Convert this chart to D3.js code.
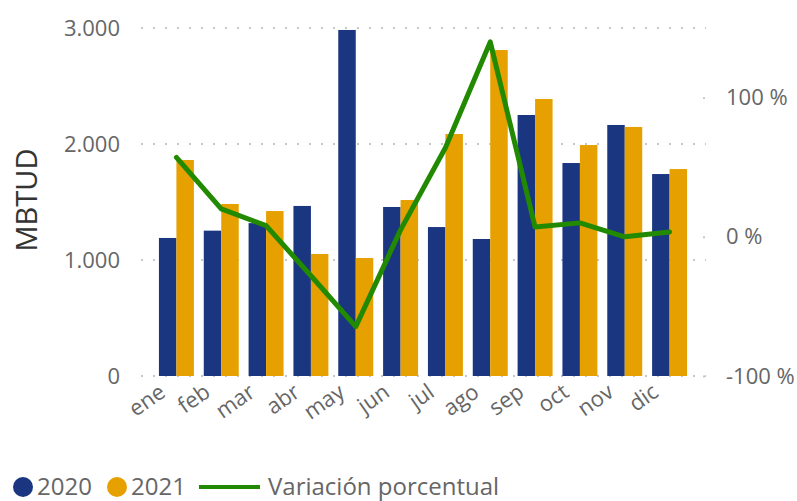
<!DOCTYPE html>
<html>
<head>
<meta charset="utf-8">
<script src="https://cdn.jsdelivr.net/npm/d3@7"></script>
<style>
  body { margin: 0; background: #fff; }
  text { font-family: "Open Sans", "Noto Sans", sans-serif; fill: #666; }
</style>
</head>
<body>
<svg id="chart" width="797" height="501"></svg>
<script>
var months = ['ene', 'feb', 'mar', 'abr', 'may', 'jun', 'jul', 'ago', 'sep', 'oct', 'nov', 'dic'];
var values2020 = [1190, 1253, 1318, 1466, 2983, 1457, 1284, 1181, 2250, 1836, 2164, 1741];
var values2021 = [1862, 1483, 1422, 1052, 1017, 1517, 2086, 2810, 2388, 1991, 2147, 1784];
var variacion = [57, 20, 8, -28, -64.5, 5, 64, 140, 7, 10, 0, 3.5];
var leftTicks = [0, 1000, 2000, 3000];
var rightTicks = [-100, 0, 100];

var colors = { '2020': '#1b3680', '2021': '#e6a000', line: '#218a00' };

var svg = d3.select('#chart');

var x = d3.scaleBand()
    .domain(months)
    .range([154, 692])
    .paddingInner(0.22)
    .paddingOuter(0.11);

var xSub = d3.scaleBand()
    .domain(['2020', '2021'])
    .range([0, x.bandwidth()]);

var y = d3.scaleLinear().domain([0, 3000]).range([376, 28]);
var y2 = d3.scaleLinear().domain([-100, 150]).range([376, 28]);

var fmt = function(d) { return d3.format(',')(d).replace(/,/g, '.'); };

// grid lines (dotted)
svg.append('g')
    .selectAll('line')
    .data(leftTicks)
    .enter()
    .append('line')
    .attr('x1', 141)
    .attr('x2', 706)
    .attr('y1', function(d) { return y(d); })
    .attr('y2', function(d) { return y(d); })
    .attr('stroke', '#c8c8c8')
    .attr('stroke-width', 2)
    .attr('stroke-dasharray', '2,10');

// left axis
var leftAxis = svg.append('g')
    .attr('transform', 'translate(120,0)')
    .call(d3.axisLeft(y).tickValues(leftTicks).tickFormat(fmt).tickSize(0).tickPadding(0));
leftAxis.select('.domain').remove();
leftAxis.selectAll('text').style('font-size', '22px').attr('fill', '#666');

// right axis
var rightAxis = svg.append('g')
    .attr('transform', 'translate(704,0)')
    .call(d3.axisRight(y2).tickValues(rightTicks).tickFormat(function(d) { return d + ' %'; }).tickSize(0).tickPadding(22));
rightAxis.select('.domain').remove();
rightAxis.selectAll('text').style('font-size', '22px').attr('fill', '#666');
rightAxis.selectAll('.tick').append('rect')
    .attr('x', -1).attr('y', -1).attr('width', 2).attr('height', 2)
    .attr('fill', '#c8c8c8');

// bars
var groups = svg.append('g')
    .selectAll('g')
    .data(months)
    .enter()
    .append('g')
    .attr('transform', function(d) { return 'translate(' + x(d) + ',0)'; });

groups.append('rect')
    .attr('x', xSub('2020'))
    .attr('width', xSub.bandwidth())
    .attr('y', function(d, i) { return y(values2020[i]); })
    .attr('height', function(d, i) { return y(0) - y(values2020[i]); })
    .attr('fill', colors['2020']);

groups.append('rect')
    .attr('x', xSub('2021'))
    .attr('width', xSub.bandwidth())
    .attr('y', function(d, i) { return y(values2021[i]); })
    .attr('height', function(d, i) { return y(0) - y(values2021[i]); })
    .attr('fill', colors['2021']);

// line
var line = d3.line()
    .x(function(d, i) { return x(months[i]) + x.bandwidth() / 2; })
    .y(function(d) { return y2(d); });

svg.append('path')
    .datum(variacion)
    .attr('d', line)
    .attr('fill', 'none')
    .attr('stroke', colors.line)
    .attr('stroke-width', 5)
    .attr('stroke-linejoin', 'round')
    .attr('stroke-linecap', 'round');

// x labels, rotated
svg.append('g')
    .selectAll('text')
    .data(months)
    .enter()
    .append('text')
    .attr('transform', function(d) {
        return 'translate(' + (x(d) + x.bandwidth() / 2 - 14) + ',389) rotate(-35)';
    })
    .attr('text-anchor', 'end')
    .attr('dy', '0.35em')
    .style('font-size', '22px')
    .text(function(d) { return d; });

// y title
svg.append('text')
    .attr('transform', 'translate(37,200) rotate(-90)')
    .attr('text-anchor', 'middle')
    .style('font-size', '29px')
    .style('fill', '#333')
    .text('MBTUD');

// legend
var legend = svg.append('g').attr('transform', 'translate(0,487)');
legend.append('circle').attr('cx', 23).attr('cy', 0).attr('r', 10).attr('fill', colors['2020']);
legend.append('text').attr('x', 37).attr('dy', '0.35em').style('font-size', '24px').text('2020');
legend.append('circle').attr('cx', 117).attr('cy', 0).attr('r', 10).attr('fill', colors['2021']);
legend.append('text').attr('x', 131).attr('dy', '0.35em').style('font-size', '24px').text('2021');
legend.append('line').attr('x1', 199).attr('x2', 260).attr('y1', 0).attr('y2', 0)
    .attr('stroke', colors.line).attr('stroke-width', 4);
legend.append('text').attr('x', 268).attr('dy', '0.35em').style('font-size', '24px').text('Variación porcentual');
</script>
</body>
</html>
